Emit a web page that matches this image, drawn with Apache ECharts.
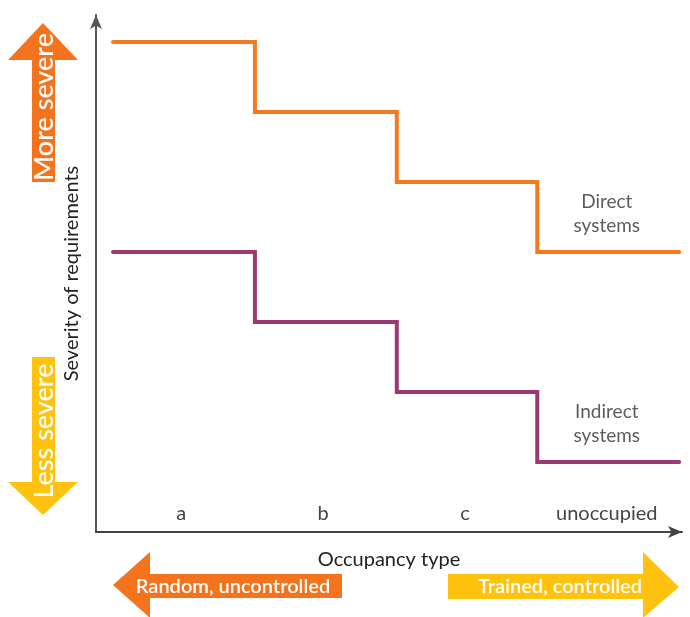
<!DOCTYPE html>
<html>
<head>
<meta charset="utf-8">
<script src="https://cdn.jsdelivr.net/npm/echarts@6/dist/echarts.min.js"></script>
<style>html,body{margin:0;padding:0;background:#fff}#c{width:690px;height:617px}</style>
</head>
<body>
<div id="c"></div>
<script>
const categories = ['a', 'b', 'c', 'unoccupied'];
const categoryCenters = [0.6, 1.6, 2.6, 3.6];
const bandEdges = [0.12, 1.12, 2.12, 3.11, 4.11];
const directLevels = [7, 6, 5, 4];
const indirectLevels = [4, 3, 2, 1];
const seriesNames = ['Direct\nsystems', 'Indirect\nsystems'];
const seriesLabelAt = [[3.6, 4.55], [3.6, 1.54]];

function stepData(levels) {
  const out = [];
  levels.forEach((v, i) => { out.push([bandEdges[i], v]); out.push([bandEdges[i + 1], v]); });
  return out;
}

const FONT = 'Lato';
const chart = echarts.init(document.getElementById('c'), null, {renderer: 'canvas'});

function lineSeries(levels, color) {
  return {
    type: 'line', data: stepData(levels), symbol: 'none', silent: true,
    lineStyle: {color: color, width: 4, join: 'miter', cap: 'round'}
  };
}

chart.setOption({
  animation: false,
  grid: {left: 96, top: 15, width: 586, bottom: 85},
  xAxis: {
    type: 'value', min: 0, max: 4.13,
    name: 'Occupancy type', nameLocation: 'middle', nameGap: 18,
    nameTextStyle: {color: '#222', fontFamily: FONT, fontSize: 20},
    splitLine: {show: false},
    axisTick: {show: false},
    axisLine: {show: true, lineStyle: {color: '#444', width: 2}, symbol: ['none', 'arrow'], symbolSize: [9, 14]},
    axisLabel: {
      show: true, inside: true, margin: 8, customValues: categoryCenters,
      formatter: v => categories[categoryCenters.findIndex(c => Math.abs(c - v) < 1e-6)] || '',
      color: '#444', fontFamily: FONT, fontSize: 20
    }
  },
  yAxis: {
    type: 'value', min: 0, max: 7.386,
    name: 'Severity of requirements', nameLocation: 'middle', nameGap: 14, nameRotate: 90,
    nameTextStyle: {color: '#222', fontFamily: FONT, fontSize: 20},
    splitLine: {show: false}, axisTick: {show: false}, axisLabel: {show: false},
    axisLine: {show: true, lineStyle: {color: '#555', width: 2}, symbol: ['none', 'arrow'], symbolSize: [9, 14]}
  },
  series: [
    lineSeries(directLevels, '#F47A20'),
    lineSeries(indirectLevels, '#9A3A70'),
    {
      type: 'scatter', silent: true, symbolSize: 1, itemStyle: {color: 'rgba(0,0,0,0)'},
      data: seriesLabelAt.map((p, i) => ({value: p, name: seriesNames[i]})),
      label: {show: true, position: 'inside', formatter: p => p.name, color: '#333', fontFamily: FONT, fontSize: 19, lineHeight: 24}
    }
  ],
  graphic: [
    // More severe (up arrow)
    {type: 'polygon', shape: {points: [[43, 23], [78, 60], [55, 60], [55, 182], [32, 182], [32, 60], [8, 60]]}, style: {fill: '#F5731C'}},
    {type: 'text', x: 44, y: 107, rotation: Math.PI / 2, style: {text: 'More severe', fill: '#fff', font: '500 27px Lato', align: 'center', verticalAlign: 'middle'}},
    // Less severe (down arrow)
    {type: 'polygon', shape: {points: [[32, 357], [55, 357], [55, 482], [78, 482], [43, 515], [8, 482], [32, 482]]}, style: {fill: '#FFC20E'}},
    {type: 'text', x: 44, y: 431, rotation: Math.PI / 2, style: {text: 'Less severe', fill: '#fff', font: '500 27px Lato', align: 'center', verticalAlign: 'middle'}},
    // Random, uncontrolled (left arrow)
    {type: 'polygon', shape: {points: [[113, 585], [150, 552], [150, 574], [342, 574], [342, 598], [150, 598], [150, 618]]}, style: {fill: '#F5731C'}},
    {type: 'text', x: 233, y: 587, style: {text: 'Random, uncontrolled', fill: '#fff', font: '600 20px Lato', align: 'center', verticalAlign: 'middle'}},
    // Trained, controlled (right arrow)
    {type: 'polygon', shape: {points: [[448, 574], [643, 574], [643, 552], [679, 587], [643, 618], [643, 599], [448, 599]]}, style: {fill: '#FFC20E'}},
    {type: 'text', x: 560, y: 587, style: {text: 'Trained, controlled', fill: '#fff', font: '600 20px Lato', align: 'center', verticalAlign: 'middle'}}
  ]
});
</script>
</body>
</html>
